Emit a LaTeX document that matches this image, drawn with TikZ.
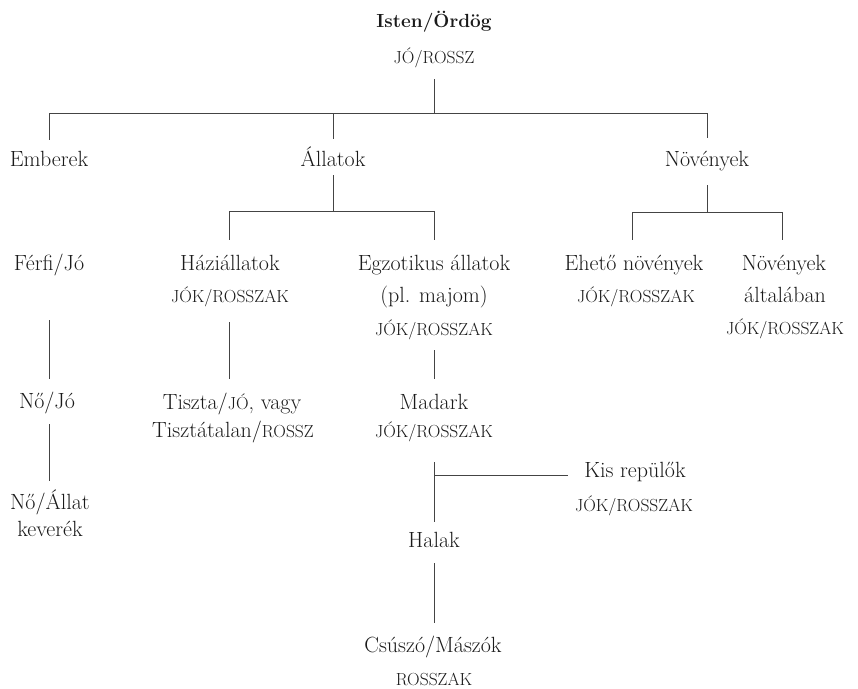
\documentclass[tikz,border=0pt]{standalone}
\definecolor{ink}{HTML}{1A1A1A}
\definecolor{linec}{HTML}{444444}
\newcommand\smc[1]{{\fontsize{17.5}{20}\selectfont #1}}
\tikzset{
  txt/.style={inner sep=0pt, text height=15pt, text depth=5pt, anchor=base,
    font=\fontsize{22}{26}\selectfont, text=ink},
  sctxt/.style={inner sep=0pt, text height=11pt, text depth=3pt, anchor=base,
    font=\fontsize{17.5}{20}\selectfont, text=ink},
  link/.style={draw=linec, line width=0.9pt},
}
\begin{document}
\begin{tikzpicture}[x=1pt,y=-1pt]
\useasboundingbox (0,0) rectangle (858,688);
% top
\node[txt, font=\fontsize{19}{23}\selectfont\bfseries] (isten) at (434,27) {Isten/Ördög};
\node[sctxt] (rossz) at (434,63) {JÓ/ROSSZ};
% row 1
\node[txt] (emberek) at (49,166) {Emberek};
\node[txt] (allatok) at (333,166) {Állatok};
\node[txt] (noveny) at (707,166) {Növények};
% row 2
\node[txt] (ferfi) at (49,270) {Férfi/Jó};
\node[txt] (hazi) at (230,270) {Háziállatok};
\node[sctxt] (haziJ) at (230,302) {JÓK/ROSSZAK};
\node[txt] (egz) at (434,270) {Egzotikus állatok};
\node[txt] (egz2) at (434,302) {(pl. majom)};
\node[sctxt] (egzJ) at (434,335) {JÓK/ROSSZAK};
\node[txt] (eheto) at (634,270) {Ehető növények};
\node[sctxt] (ehetoJ) at (636,302) {JÓK/ROSSZAK};
\node[txt] (nov2) at (784,270) {Növények};
\node[txt] (nov2b) at (785,302) {általában};
\node[sctxt] (nov2J) at (785,334) {JÓK/ROSSZAK};
% row 3
\node[txt] (no) at (47,408) {Nő/Jó};
\node[txt] (tiszta) at (232,409) {Tiszta/\smc{JÓ}, vagy};
\node[txt] (tisztatalan) at (233,437) {Tisztátalan/\smc{ROSSZ}};
\node[txt] (madark) at (434,409) {Madark};
\node[sctxt] (madarkJ) at (434,437) {JÓK/ROSSZAK};
% lower
\node[txt] (noallat) at (50,509) {Nő/Állat};
\node[txt] (keverek) at (50,536) {keverék};
\node[txt] (kis) at (635,477) {Kis repülők};
\node[sctxt] (kisJ) at (634,511) {JÓK/ROSSZAK};
\node[txt] (halak) at (434,547) {Halak};
\node[txt] (csuszo) at (433,652) {Csúszó/Mászók};
\node[sctxt] (rosszak) at (434,685) {ROSSZAK};
% connectors
\coordinate (b1) at (434,113);
\draw[link, shorten <=13pt] (rossz.south) -- (b1);
\draw[link, shorten >=11pt] (b1) -| (emberek.north);
\draw[link, shorten >=12pt] (b1) -| (allatok.north);
\draw[link, shorten >=13pt] (b1) -| (noveny.north);
\coordinate (b2) at (333,211);
\draw[link, shorten <=4pt] (allatok.south) -- (b2);
\draw[link, shorten >=15pt] (b2) -| ([xshift=-1pt]hazi.north);
\draw[link, shorten >=15pt] (b2) -| (egz.north);
\coordinate (b3) at (707,212);
\draw[link, shorten <=14pt] (noveny.south) -- (b3);
\draw[link, shorten >=15pt] (b3) -| ([xshift=-2pt]eheto.north);
\draw[link, shorten >=15pt] (b3) -| ([xshift=-2pt]nov2.north);
\draw[link, shorten <=45pt, shorten >=14pt] (ferfi.south) -- (ferfi.south |- no.north);
\draw[link, shorten <=11pt, shorten >=13pt] (ferfi.south |- no.south) -- (ferfi.south |- noallat.north);
\draw[link, shorten <=17pt, shorten >=15pt] ([xshift=-1pt]haziJ.south) -- ([xshift=-1pt]haziJ.south |- tiszta.north);
\draw[link, shorten <=12pt, shorten >=15pt] (egzJ.south) -- (madark.north);
\draw[link, shorten <=22pt, shorten >=10pt] (madarkJ.south) -- (halak.north);
\draw[link, shorten >=16pt] (halak.north |- 0,475) -- (kis.west |- 0,475);
\draw[link, shorten <=11pt, shorten >=14pt] (halak.south) -- (halak.south |- csuszo.north);
\end{tikzpicture}
\end{document}
